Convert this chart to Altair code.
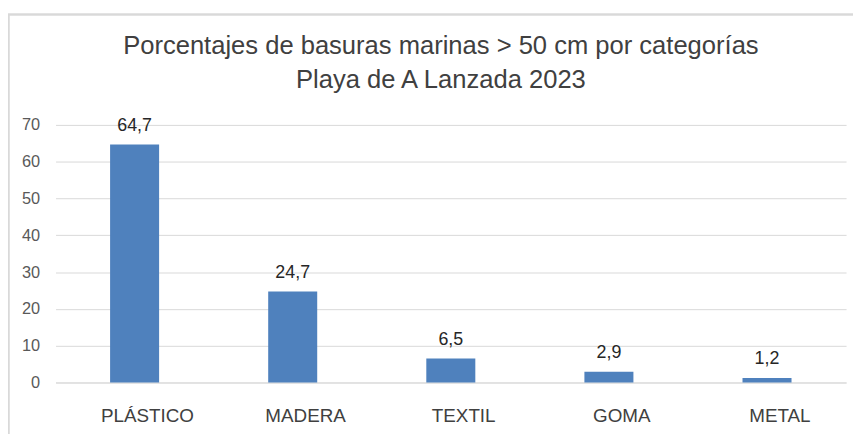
import altair as alt
import pandas as pd

categories = ["PLÁSTICO", "MADERA", "TEXTIL", "GOMA", "METAL"]
values = [64.7, 24.7, 6.5, 2.9, 1.2]
y_ticks = [0, 10, 20, 30, 40, 50, 60, 70]
title_lines = ["Porcentajes de basuras marinas > 50 cm por categorías", "Playa de A Lanzada 2023"]

df = pd.DataFrame({"cat": categories, "val": values})
df["lab"] = [f"{v:.1f}".replace(".", ",") for v in values]

FONT = "Liberation Sans"
W, H = 798, 260

x = alt.X("cat:N", sort=categories, title=None,
          scale=alt.Scale(paddingInner=0.69, paddingOuter=0.345),
          axis=alt.Axis(labelAngle=0, labelFont=FONT, labelFontSize=19, labelColor="#404040",
                        labelBaseline="alphabetic", labelPadding=39, labelOffset=13,
                        ticks=False, domain=True, domainColor="#d9d9d9"))
y = alt.Y("val:Q", title=None,
          scale=alt.Scale(domain=[0, 70], nice=False),
          axis=alt.Axis(values=y_ticks, labelFont=FONT, labelFontSize=16.5, labelColor="#595959",
                        labelPadding=16, ticks=False, domain=False, grid=True,
                        gridColor="#d9d9d9", gridWidth=1, labelOverlap=False))

base = alt.Chart(df)
bars = base.mark_bar(color="#4F81BD").encode(x=x, y=y)
labels = base.mark_text(dy=-14, font=FONT, fontSize=18, color="#262626", baseline="alphabetic").encode(
    x=x, y=y, text="lab:N")

border = alt.Chart(df).mark_rect(fill=None, stroke="#d9d9d9", strokeWidth=1.5).encode(
    x=alt.value(-47.5), y=alt.value(-111.5), x2=alt.value(1000), y2=alt.value(1000))

title = alt.Chart(pd.DataFrame({"k": [0]})).mark_text(
    text=title_lines, font=FONT, fontSize=25.8, color="#404040", align="center",
    baseline="alphabetic", lineHeight=35).encode(
    x=alt.value(W / 2 - 10), y=alt.value(-72))

chart = alt.layer(border, bars, labels, title).properties(
    width=W, height=H,
    padding={"left": 48, "top": 116, "right": 7, "bottom": 50},
    autosize=alt.AutoSizeParams(type="none"),
).configure_view(stroke=None)

chart.save("out.html", embed_options={"renderer": "svg", "actions": False})
